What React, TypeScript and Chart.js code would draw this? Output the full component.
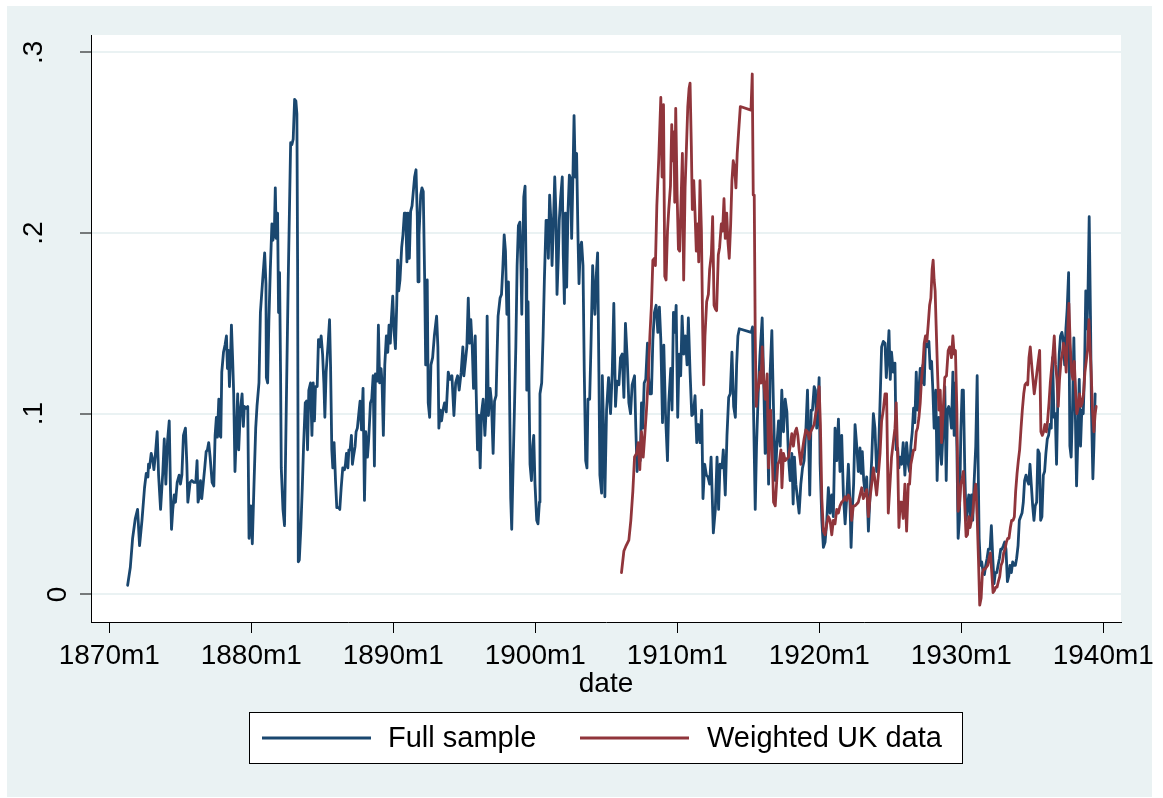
import { useEffect, useRef } from 'react';
import { Chart, registerables } from 'chart.js';

Chart.register(...registerables);

// Monthly series, dates as decimal years.
const fullDates = [
  1871.29, 1871.48, 1871.64, 1871.83, 1871.99, 1872.13, 1872.3, 1872.48, 1872.6, 1872.72, 1872.76, 1872.83, 1872.95,
  1873.07, 1873.14, 1873.23, 1873.37, 1873.47, 1873.61, 1873.77, 1873.87, 1873.98, 1874.1, 1874.22, 1874.31, 1874.38,
  1874.47, 1874.57, 1874.66, 1874.78, 1874.92, 1875.01, 1875.11, 1875.22, 1875.36, 1875.46, 1875.53, 1875.62, 1875.69,
  1875.81, 1875.95, 1876.09, 1876.18, 1876.25, 1876.35, 1876.42, 1876.51, 1876.61, 1876.72, 1876.82, 1876.91, 1877.0,
  1877.1, 1877.24, 1877.36, 1877.45, 1877.54, 1877.61, 1877.71, 1877.78, 1877.85, 1877.92, 1878.04, 1878.15, 1878.25,
  1878.32, 1878.39, 1878.46, 1878.55, 1878.6, 1878.69, 1878.76, 1878.85, 1878.95, 1879.04, 1879.11, 1879.23, 1879.35,
  1879.44, 1879.51, 1879.63, 1879.75, 1879.84, 1879.96, 1880.07, 1880.19, 1880.31, 1880.4, 1880.54, 1880.64, 1880.8,
  1880.94, 1881.03,
  1881.06, 1881.15, 1881.24, 1881.34, 1881.45, 1881.52, 1881.62, 1881.69, 1881.76, 1881.85, 1881.92, 1881.99, 1882.06,
  1882.11, 1882.23, 1882.34, 1882.46, 1882.6, 1882.77, 1882.86, 1882.95, 1883.05, 1883.14, 1883.21, 1883.26, 1883.31,
  1883.38, 1883.49, 1883.59, 1883.68, 1883.8, 1883.89, 1883.96, 1884.05, 1884.17, 1884.27, 1884.36, 1884.45, 1884.52,
  1884.64, 1884.73, 1884.83, 1884.92, 1885.02, 1885.11, 1885.18, 1885.27, 1885.41, 1885.51, 1885.58, 1885.67, 1885.74,
  1885.83, 1885.93, 1886.02, 1886.16, 1886.23, 1886.33, 1886.44, 1886.56, 1886.63, 1886.7, 1886.8, 1886.87, 1886.96,
  1887.05, 1887.12, 1887.19, 1887.31, 1887.38, 1887.47, 1887.57, 1887.66, 1887.76, 1887.87, 1887.97, 1888.06, 1888.18,
  1888.27, 1888.39, 1888.48, 1888.58, 1888.67, 1888.74, 1888.88, 1888.95, 1889.04, 1889.14, 1889.21, 1889.3, 1889.4,
  1889.51, 1889.61, 1889.7, 1889.79, 1889.86, 1889.96, 1890.05, 1890.15, 1890.24, 1890.31, 1890.38, 1890.47, 1890.59,
  1890.68, 1890.78, 1890.87, 1890.96, 1891.03, 1891.13, 1891.22, 1891.32, 1891.41, 1891.5, 1891.6, 1891.69, 1891.74,
  1891.81, 1891.93, 1892.02, 1892.11, 1892.21, 1892.28, 1892.39, 1892.46, 1892.56, 1892.65,
  1892.77, 1892.89, 1893.05, 1893.14, 1893.21, 1893.31, 1893.4, 1893.5, 1893.61, 1893.73, 1893.87, 1893.99, 1894.13,
  1894.27, 1894.39, 1894.53, 1894.64, 1894.78, 1894.9, 1894.97, 1895.09, 1895.18, 1895.28, 1895.37, 1895.46, 1895.56,
  1895.65, 1895.77, 1895.84, 1895.93, 1896.03, 1896.12, 1896.21, 1896.33, 1896.45, 1896.54, 1896.61, 1896.7, 1896.82,
  1896.91, 1897.03, 1897.13, 1897.24, 1897.31, 1897.38, 1897.52, 1897.62, 1897.71, 1897.81, 1897.9, 1898.0, 1898.11,
  1898.2, 1898.27, 1898.34, 1898.44, 1898.53, 1898.63, 1898.72, 1898.81, 1898.91, 1898.98, 1899.05, 1899.12, 1899.19,
  1899.28, 1899.35, 1899.4, 1899.49, 1899.56, 1899.63, 1899.73, 1899.82, 1899.89, 1899.98, 1900.1, 1900.19, 1900.29,
  1900.33, 1900.45, 1900.55, 1900.64, 1900.76, 1900.85, 1900.92, 1901.01, 1901.11, 1901.18, 1901.27, 1901.37, 1901.46,
  1901.53, 1901.62, 1901.69, 1901.79, 1901.9, 1901.97, 1902.05, 1902.12, 1902.21, 1902.3, 1902.4, 1902.49, 1902.56,
  1902.65, 1902.73, 1902.82, 1902.91, 1903.01, 1903.08, 1903.17, 1903.26, 1903.36, 1903.45, 1903.55, 1903.64, 1903.71,
  1903.83, 1903.92, 1904.04, 1904.13, 1904.2, 1904.29, 1904.39, 1904.48, 1904.55, 1904.67,
  1904.72, 1904.81, 1904.9, 1905.02, 1905.16, 1905.3, 1905.42, 1905.53, 1905.65, 1905.75, 1905.89, 1906.0, 1906.12,
  1906.24, 1906.35, 1906.47, 1906.59, 1906.71, 1906.82, 1906.99, 1907.08, 1907.17, 1907.29, 1907.39, 1907.48, 1907.57,
  1907.67, 1907.78, 1907.9, 1907.97, 1908.07, 1908.18, 1908.28, 1908.39, 1908.51, 1908.63, 1908.74, 1908.84, 1908.96,
  1909.05, 1909.17, 1909.31, 1909.4, 1909.54, 1909.63, 1909.73, 1909.82, 1909.92, 1910.03, 1910.13, 1910.24, 1910.34,
  1910.45, 1910.57, 1910.69, 1910.78, 1910.9, 1911.02, 1911.13, 1911.25, 1911.37, 1911.48, 1911.6, 1911.72, 1911.81,
  1911.93, 1912.05, 1912.16, 1912.28, 1912.38, 1912.54, 1912.68, 1912.8, 1912.91, 1913.01, 1913.15, 1913.24, 1913.38,
  1913.5, 1913.62, 1913.73, 1913.85, 1913.97, 1914.09, 1914.18, 1914.27, 1914.37, 1915.21, 1915.3, 1915.37, 1915.49,
  1915.58, 1915.7, 1915.82, 1915.98, 1916.1, 1916.19, 1916.31, 1916.43, 1916.54,
  1916.66, 1916.78, 1916.9, 1917.01, 1917.13, 1917.25, 1917.36, 1917.48, 1917.6, 1917.72, 1917.83, 1917.95, 1918.07,
  1918.16, 1918.25, 1918.35, 1918.44, 1918.58, 1918.7, 1918.82, 1918.93, 1919.05, 1919.17, 1919.26, 1919.33, 1919.43,
  1919.52, 1919.64, 1919.73, 1919.82, 1919.89, 1919.99, 1920.06, 1920.18, 1920.29, 1920.41, 1920.53, 1920.64, 1920.76,
  1920.88, 1920.99, 1921.11, 1921.23, 1921.35, 1921.46, 1921.58, 1921.7, 1921.82, 1921.93, 1922.05, 1922.17, 1922.24,
  1922.33, 1922.42, 1922.52, 1922.64, 1922.75, 1922.87, 1922.94, 1923.03, 1923.13, 1923.22, 1923.34, 1923.46, 1923.57,
  1923.69, 1923.81, 1923.92, 1924.04, 1924.16, 1924.28, 1924.39, 1924.51, 1924.63, 1924.72, 1924.81, 1924.91, 1925.0,
  1925.09, 1925.21, 1925.33, 1925.42, 1925.52, 1925.61, 1925.7, 1925.8, 1925.91, 1926.03, 1926.15, 1926.27, 1926.36,
  1926.45, 1926.55, 1926.64, 1926.73, 1926.83, 1926.92, 1927.02, 1927.11, 1927.2, 1927.3, 1927.39, 1927.48, 1927.63,
  1927.72, 1927.81, 1927.91, 1928.0, 1928.09, 1928.21, 1928.3, 1928.42, 1928.54,
  1928.61, 1928.73, 1928.84, 1928.94, 1929.03, 1929.12, 1929.22, 1929.31, 1929.41, 1929.5, 1929.59, 1929.69, 1929.78,
  1929.87, 1929.97, 1930.06, 1930.15, 1930.25, 1930.34, 1930.44, 1930.53, 1930.62, 1930.72, 1930.81, 1930.9, 1931.02,
  1931.12, 1931.19, 1931.26, 1931.35, 1931.44, 1931.54, 1931.63, 1931.72, 1931.82, 1931.91, 1932.03, 1932.12, 1932.22,
  1932.31, 1932.4, 1932.5, 1932.59, 1932.69, 1932.78, 1932.87, 1932.97, 1933.06, 1933.15, 1933.25, 1933.34, 1933.43,
  1933.53, 1933.62, 1933.72, 1933.81, 1933.9, 1934.0, 1934.09, 1934.18, 1934.28, 1934.37, 1934.46, 1934.56, 1934.65,
  1934.75, 1934.84, 1934.93, 1935.03, 1935.12, 1935.21, 1935.31, 1935.4, 1935.5, 1935.59, 1935.68, 1935.78, 1935.87,
  1935.96, 1936.06, 1936.15, 1936.25, 1936.34, 1936.43, 1936.53, 1936.62, 1936.71, 1936.81, 1936.9, 1936.99, 1937.09,
  1937.18, 1937.28, 1937.37, 1937.46, 1937.56, 1937.65, 1937.74, 1937.84, 1937.93, 1938.03, 1938.12, 1938.21, 1938.31,
  1938.4, 1938.49, 1938.59, 1938.68, 1938.77, 1938.85, 1938.92, 1939.01, 1939.1, 1939.17, 1939.27, 1939.34, 1939.43,
];

const fullValues = [
  0.005, 0.015, 0.031, 0.042, 0.047, 0.027, 0.041, 0.059, 0.067, 0.065, 0.072, 0.07, 0.078,
  0.074, 0.069, 0.076, 0.09, 0.066, 0.047, 0.068, 0.086, 0.061, 0.085, 0.096, 0.057, 0.036,
  0.047, 0.055, 0.051, 0.062, 0.066, 0.061, 0.066, 0.088, 0.092, 0.072, 0.051, 0.057, 0.062,
  0.063, 0.062, 0.062, 0.074, 0.051, 0.055, 0.063, 0.053, 0.061, 0.07, 0.079, 0.08, 0.084,
  0.076, 0.062, 0.06, 0.088, 0.098, 0.087, 0.108, 0.088, 0.087, 0.123, 0.134, 0.138, 0.143,
  0.125, 0.135, 0.115, 0.135, 0.149, 0.129, 0.111, 0.068, 0.09, 0.111, 0.08, 0.102, 0.111,
  0.093, 0.104, 0.103, 0.104, 0.031, 0.049, 0.028, 0.061, 0.092, 0.104, 0.117, 0.156, 0.174,
  0.189, 0.172,
  0.12, 0.117, 0.152, 0.18, 0.205, 0.196, 0.2, 0.225, 0.197, 0.211, 0.156, 0.178, 0.123,
  0.07, 0.047, 0.038, 0.102, 0.174, 0.25, 0.249, 0.252, 0.274, 0.273, 0.266, 0.184, 0.018,
  0.019, 0.037, 0.059, 0.082, 0.106, 0.107, 0.08, 0.113, 0.117, 0.088, 0.117, 0.096, 0.115,
  0.115, 0.141, 0.137, 0.143, 0.133, 0.117, 0.098, 0.123, 0.139, 0.152, 0.127, 0.08, 0.07,
  0.084, 0.063, 0.048, 0.048, 0.047, 0.059, 0.07, 0.069, 0.072, 0.078, 0.07, 0.08, 0.08,
  0.088, 0.072, 0.076, 0.082, 0.09, 0.092, 0.1, 0.107, 0.091, 0.114, 0.052, 0.09, 0.076,
  0.086, 0.106, 0.108, 0.121, 0.071, 0.122, 0.118, 0.149, 0.117, 0.125, 0.117, 0.088, 0.127,
  0.143, 0.134, 0.149, 0.139, 0.152, 0.165, 0.146, 0.136, 0.16, 0.185, 0.168, 0.174, 0.192,
  0.199, 0.211, 0.211, 0.184, 0.211, 0.186, 0.212, 0.215, 0.223, 0.231, 0.235, 0.209, 0.173,
  0.199, 0.221, 0.225, 0.223, 0.174, 0.127, 0.174, 0.106, 0.098, 0.127,
  0.131, 0.143, 0.154, 0.137, 0.092, 0.102, 0.096, 0.102, 0.106, 0.101, 0.123, 0.119, 0.121,
  0.099, 0.117, 0.121, 0.113, 0.123, 0.137, 0.121, 0.13, 0.137, 0.164, 0.139, 0.152, 0.137,
  0.114, 0.143, 0.111, 0.08, 0.099, 0.07, 0.1, 0.108, 0.088, 0.102, 0.154, 0.099, 0.114,
  0.107, 0.078, 0.107, 0.11, 0.133, 0.154, 0.164, 0.166, 0.18, 0.199, 0.19, 0.155, 0.173,
  0.102, 0.053, 0.036, 0.072, 0.102, 0.137, 0.182, 0.204, 0.206, 0.186, 0.155, 0.193, 0.22,
  0.226, 0.18, 0.113, 0.162, 0.113, 0.072, 0.063, 0.082, 0.088, 0.061, 0.041, 0.039, 0.051,
  0.111, 0.117, 0.143, 0.174, 0.207, 0.207, 0.186, 0.221, 0.205, 0.182, 0.203, 0.231, 0.209,
  0.166, 0.186, 0.207, 0.22, 0.231, 0.188, 0.161, 0.211, 0.17, 0.211, 0.232, 0.23, 0.197,
  0.231, 0.265, 0.231, 0.244, 0.197, 0.172, 0.192, 0.195, 0.182, 0.123, 0.074, 0.07, 0.108,
  0.108, 0.137, 0.182, 0.164, 0.155, 0.176, 0.189, 0.123, 0.066, 0.056,
  0.121, 0.092, 0.054, 0.102, 0.12, 0.1, 0.123, 0.161, 0.104, 0.118, 0.116, 0.131, 0.133,
  0.109, 0.15, 0.131, 0.106, 0.1, 0.116, 0.121, 0.092, 0.068, 0.082, 0.074, 0.106, 0.092,
  0.117, 0.119, 0.139, 0.121, 0.111, 0.111, 0.141, 0.156, 0.16, 0.145, 0.159, 0.141, 0.095,
  0.138, 0.1, 0.074, 0.106, 0.125, 0.102, 0.156, 0.145, 0.16, 0.098, 0.133, 0.121, 0.154,
  0.133, 0.143, 0.127, 0.153, 0.123, 0.099, 0.1, 0.11, 0.084, 0.094, 0.084, 0.102, 0.053,
  0.072, 0.066, 0.065, 0.061, 0.076, 0.034, 0.047, 0.076, 0.047, 0.072, 0.07, 0.08, 0.055,
  0.088, 0.109, 0.111, 0.134, 0.104, 0.098, 0.127, 0.143, 0.147, 0.145, 0.148, 0.102, 0.047,
  0.082, 0.111, 0.132, 0.153, 0.113, 0.078, 0.113, 0.061, 0.123,
  0.146, 0.102, 0.063, 0.082, 0.096, 0.082, 0.113, 0.09, 0.108, 0.101, 0.076, 0.063, 0.078,
  0.05, 0.076, 0.061, 0.055, 0.045, 0.061, 0.07, 0.074, 0.09, 0.113, 0.082, 0.055, 0.102,
  0.102, 0.115, 0.113, 0.092, 0.102, 0.12, 0.072, 0.041, 0.026, 0.029, 0.041, 0.059, 0.045,
  0.055, 0.043, 0.092, 0.074, 0.097, 0.068, 0.088, 0.055, 0.039, 0.053, 0.072, 0.049, 0.026,
  0.047, 0.061, 0.094, 0.082, 0.068, 0.081, 0.067, 0.079, 0.063, 0.057, 0.065, 0.035, 0.054,
  0.074, 0.1, 0.092, 0.068, 0.074, 0.106, 0.137, 0.14, 0.139, 0.12, 0.131, 0.146, 0.119,
  0.134, 0.123, 0.128, 0.08, 0.081, 0.07, 0.076, 0.072, 0.084, 0.066, 0.084, 0.072, 0.068,
  0.082, 0.09, 0.103, 0.095, 0.123, 0.102, 0.113, 0.125, 0.117, 0.127, 0.116, 0.139, 0.137,
  0.14, 0.125, 0.129, 0.113, 0.092, 0.113, 0.063, 0.098, 0.078,
  0.072, 0.092, 0.115, 0.063, 0.102, 0.104, 0.1, 0.092, 0.123, 0.088, 0.117, 0.082, 0.031,
  0.041, 0.09, 0.113, 0.113, 0.068, 0.041, 0.049, 0.055, 0.043, 0.055, 0.041, 0.061, 0.082,
  0.121, 0.072, 0.031, 0.016, 0.018, 0.012, 0.011, 0.016, 0.02, 0.025, 0.025, 0.038, 0.02,
  0.006, 0.012, 0.012, 0.016, 0.02, 0.025, 0.025, 0.027, 0.029, 0.025, 0.007, 0.01, 0.016,
  0.012, 0.018, 0.016, 0.016, 0.02, 0.027, 0.041, 0.043, 0.045, 0.051, 0.063, 0.066, 0.063,
  0.061, 0.072, 0.061, 0.049, 0.041, 0.049, 0.051, 0.08, 0.078, 0.041, 0.043, 0.066, 0.068,
  0.078, 0.086, 0.088, 0.094, 0.092, 0.131, 0.098, 0.1, 0.072, 0.113, 0.133, 0.143, 0.145,
  0.141, 0.127, 0.147, 0.158, 0.178, 0.082, 0.076, 0.104, 0.142, 0.102, 0.06, 0.086, 0.119,
  0.082, 0.102, 0.1, 0.123, 0.168, 0.147, 0.164, 0.209, 0.154, 0.102, 0.064, 0.082, 0.111,
];

const ukDates = [
  1906.07, 1906.24, 1906.4, 1906.59, 1906.73, 1906.87, 1906.99, 1907.13, 1907.25, 1907.36, 1907.48, 1907.6, 1907.71,
  1907.83, 1907.95, 1908.07, 1908.18, 1908.28, 1908.39, 1908.46, 1908.56, 1908.7, 1908.84, 1908.93, 1909.03, 1909.12,
  1909.21, 1909.31, 1909.4, 1909.52, 1909.61, 1909.68, 1909.77, 1909.82, 1909.89, 1909.99, 1910.08, 1910.17, 1910.27,
  1910.36, 1910.45, 1910.55, 1910.64, 1910.74, 1910.83, 1910.9, 1910.99, 1911.06, 1911.16, 1911.25, 1911.34, 1911.44,
  1911.51, 1911.6, 1911.7, 1911.79, 1911.86, 1911.95, 1912.07, 1912.19, 1912.28, 1912.4, 1912.49, 1912.59, 1912.68,
  1912.77, 1912.89, 1912.98, 1913.1, 1913.19, 1913.29, 1913.38, 1913.48, 1913.57, 1913.66, 1913.76, 1913.85, 1913.94,
  1914.04, 1914.13, 1914.22, 1914.32, 1914.44, 1915.19, 1915.28, 1915.35, 1915.42, 1915.49, 1915.56, 1915.63, 1915.72,
  1915.82, 1915.91, 1915.98, 1916.08, 1916.19, 1916.33, 1916.43, 1916.57,
  1916.66, 1916.78, 1916.9, 1916.99, 1917.08, 1917.2, 1917.3, 1917.37, 1917.48, 1917.6, 1917.72, 1917.83, 1917.95,
  1918.07, 1918.18, 1918.3, 1918.4, 1918.49, 1918.58, 1918.7, 1918.82, 1918.93, 1919.05, 1919.17, 1919.29, 1919.4,
  1919.52, 1919.64, 1919.75, 1919.87, 1919.99, 1920.08, 1920.18, 1920.29, 1920.41, 1920.53, 1920.64, 1920.76, 1920.88,
  1920.99, 1921.11, 1921.23, 1921.35, 1921.46, 1921.58, 1921.7, 1921.82, 1921.93, 1922.05, 1922.17, 1922.28, 1922.4,
  1922.52, 1922.64, 1922.75, 1922.87, 1922.99, 1923.1, 1923.22, 1923.34, 1923.46, 1923.57, 1923.69, 1923.81, 1923.92,
  1924.04, 1924.16, 1924.28, 1924.39, 1924.51, 1924.63, 1924.74, 1924.86, 1924.98, 1925.09, 1925.21, 1925.33, 1925.42,
  1925.52, 1925.61, 1925.7, 1925.8, 1925.91, 1926.03, 1926.15, 1926.27, 1926.36, 1926.45, 1926.55, 1926.64, 1926.73,
  1926.83, 1926.92, 1927.02, 1927.11, 1927.2, 1927.3, 1927.39, 1927.48, 1927.58, 1927.67, 1927.77, 1927.86, 1927.95,
  1928.02, 1928.09, 1928.16, 1928.23, 1928.33, 1928.42, 1928.52,
  1928.61, 1928.73, 1928.84, 1928.96, 1929.08, 1929.19, 1929.31, 1929.41, 1929.5, 1929.59, 1929.69, 1929.78, 1929.87,
  1929.97, 1930.06, 1930.15, 1930.25, 1930.34, 1930.44, 1930.53, 1930.62, 1930.72, 1930.81, 1930.9, 1931.02, 1931.12,
  1931.21, 1931.3, 1931.4, 1931.49, 1931.58, 1931.68, 1931.77, 1931.86, 1931.96, 1932.05, 1932.15, 1932.24, 1932.33,
  1932.43, 1932.52, 1932.61, 1932.71, 1932.8, 1932.9, 1932.99, 1933.08, 1933.18, 1933.27, 1933.36, 1933.46, 1933.55,
  1933.65, 1933.74, 1933.83, 1933.93, 1934.02, 1934.11, 1934.21, 1934.3, 1934.4, 1934.49, 1934.58, 1934.68, 1934.77,
  1934.86, 1934.96, 1935.05, 1935.14, 1935.24, 1935.33, 1935.42, 1935.52, 1935.61, 1935.71, 1935.8, 1935.89, 1935.99,
  1936.08, 1936.18, 1936.27, 1936.36, 1936.46, 1936.55, 1936.64, 1936.74, 1936.83, 1936.92, 1937.02, 1937.11, 1937.2,
  1937.3, 1937.39, 1937.49, 1937.58, 1937.67, 1937.77, 1937.86, 1937.96, 1938.05, 1938.14, 1938.24, 1938.33, 1938.42,
  1938.52, 1938.61, 1938.71, 1938.8, 1938.89, 1938.99, 1939.06, 1939.15, 1939.24, 1939.34, 1939.43, 1939.5,
];

const ukValues = [
  0.012, 0.024, 0.027, 0.03, 0.041, 0.057, 0.076, 0.078, 0.084, 0.069, 0.09, 0.076, 0.088,
  0.102, 0.119, 0.143, 0.16, 0.185, 0.186, 0.182, 0.215, 0.242, 0.275, 0.231, 0.271, 0.176,
  0.174, 0.201, 0.213, 0.226, 0.26, 0.24, 0.256, 0.217, 0.269, 0.221, 0.191, 0.19, 0.219,
  0.244, 0.174, 0.225, 0.246, 0.27, 0.28, 0.283, 0.248, 0.213, 0.229, 0.211, 0.19, 0.205,
  0.184, 0.229, 0.201, 0.147, 0.116, 0.143, 0.162, 0.166, 0.18, 0.188, 0.209, 0.16, 0.158,
  0.157, 0.188, 0.192, 0.205, 0.201, 0.219, 0.197, 0.211, 0.195, 0.186, 0.205, 0.229, 0.24,
  0.236, 0.225, 0.244, 0.256, 0.27, 0.268, 0.288, 0.221, 0.221, 0.143, 0.104, 0.112, 0.115,
  0.123, 0.117, 0.137, 0.119, 0.108, 0.122, 0.07, 0.102,
  0.084, 0.051, 0.049, 0.061, 0.072, 0.074, 0.08, 0.059, 0.078, 0.074, 0.075, 0.076, 0.082,
  0.089, 0.082, 0.09, 0.092, 0.088, 0.08, 0.072, 0.08, 0.086, 0.091, 0.09, 0.086, 0.09,
  0.092, 0.094, 0.1, 0.104, 0.115, 0.094, 0.053, 0.035, 0.033, 0.039, 0.043, 0.041, 0.033,
  0.041, 0.039, 0.047, 0.045, 0.049, 0.051, 0.052, 0.054, 0.052, 0.055, 0.053, 0.041, 0.049,
  0.049, 0.05, 0.051, 0.055, 0.059, 0.053, 0.055, 0.058, 0.043, 0.053, 0.061, 0.07, 0.063,
  0.055, 0.066, 0.078, 0.096, 0.102, 0.111, 0.111, 0.045, 0.061, 0.076, 0.084, 0.092, 0.106,
  0.076, 0.037, 0.051, 0.051, 0.042, 0.061, 0.035, 0.061, 0.061, 0.072, 0.076, 0.08, 0.08,
  0.09, 0.092, 0.098, 0.106, 0.119, 0.127, 0.139, 0.143, 0.14, 0.149, 0.16, 0.164, 0.18,
  0.185, 0.174, 0.168, 0.149, 0.123, 0.102, 0.113,
  0.084, 0.102, 0.12, 0.121, 0.135, 0.137, 0.131, 0.143, 0.133, 0.135, 0.102, 0.046, 0.049,
  0.061, 0.064, 0.068, 0.049, 0.032, 0.033, 0.043, 0.037, 0.041, 0.045, 0.055, 0.061, 0.043,
  0.02, -0.006, -0.002, 0.012, 0.014, 0.014, 0.015, 0.016, 0.02, 0.023, 0.012, 0.001, 0.002,
  0.004, 0.004, 0.007, 0.01, 0.016, 0.018, 0.023, 0.025, 0.029, 0.031, 0.031, 0.037, 0.041,
  0.041, 0.043, 0.057, 0.067, 0.074, 0.08, 0.092, 0.102, 0.111, 0.116, 0.117, 0.116, 0.131,
  0.137, 0.127, 0.119, 0.111, 0.117, 0.123, 0.129, 0.135, 0.09, 0.088, 0.09, 0.094, 0.09,
  0.096, 0.106, 0.117, 0.125, 0.133, 0.143, 0.127, 0.119, 0.104, 0.119, 0.129, 0.133, 0.139,
  0.135, 0.123, 0.145, 0.161, 0.139, 0.123, 0.119, 0.129, 0.113, 0.1, 0.104, 0.111, 0.104,
  0.106, 0.111, 0.123, 0.129, 0.135, 0.152, 0.139, 0.123, 0.102, 0.09, 0.1, 0.104,
];

const seriesLabels = ['Full sample', 'Weighted UK data'];
const xTickYears = [1870, 1880, 1890, 1900, 1910, 1920, 1930, 1940];
const yTickValues = [0, 0.1, 0.2, 0.3];

const NAVY = '#1A476F';
const MAROON = '#90353B';
const BACKDROP = '#EAF2F3';
const FONT = '"Liberation Sans", Arial, Helvetica, sans-serif';

const formatY = (v: number) => (v === 0 ? '0' : '.' + Math.round(v * 10));

// Light graph region behind a white plot region.
const backdropPlugin = {
  id: 'backdrop',
  beforeDraw(chart: any) {
    const { ctx, chartArea } = chart;
    ctx.save();
    ctx.fillStyle = BACKDROP;
    ctx.fillRect(7, 6, 1145, 791);
    ctx.fillStyle = '#ffffff';
    ctx.fillRect(chartArea.left, chartArea.top, chartArea.right - chartArea.left, chartArea.bottom - chartArea.top);
    ctx.restore();
  },
};

// Vertical y-axis labels, reading bottom to top.
const yLabelPlugin = {
  id: 'yLabels',
  afterDraw(chart: any) {
    const { ctx } = chart;
    const y = chart.scales.y;
    ctx.save();
    ctx.fillStyle = '#000';
    ctx.font = `28px ${FONT}`;
    ctx.textAlign = 'center';
    ctx.textBaseline = 'middle';
    yTickValues.forEach((v) => {
      const label = formatY(v);
      const cx = label.startsWith('.') ? 34 : 58;
      ctx.save();
      ctx.translate(cx, y.getPixelForValue(v));
      ctx.rotate(-Math.PI / 2);
      ctx.fillText(label, 0, 0);
      ctx.restore();
    });
    ctx.restore();
  },
};

// Boxed legend below the axis title.
const legendBoxPlugin = {
  id: 'legendBox',
  afterDraw(chart: any) {
    const { ctx } = chart;
    const box = { x: 249.5, y: 712.5, w: 713, h: 51 };
    const items = [
      { color: NAVY, lineX: 262, textX: 388 },
      { color: MAROON, lineX: 580, textX: 707 },
    ];
    const midY = box.y + box.h / 2;
    ctx.save();
    ctx.fillStyle = '#ffffff';
    ctx.fillRect(box.x, box.y, box.w, box.h);
    ctx.strokeStyle = '#000';
    ctx.lineWidth = 1;
    ctx.strokeRect(box.x, box.y, box.w, box.h);
    ctx.font = `29px ${FONT}`;
    ctx.textBaseline = 'middle';
    ctx.textAlign = 'left';
    chart.data.datasets.forEach((ds: any, i: number) => {
      const it = items[i];
      ctx.strokeStyle = it.color;
      ctx.lineWidth = 3;
      ctx.beginPath();
      ctx.moveTo(it.lineX, midY);
      ctx.lineTo(it.lineX + 109, midY);
      ctx.stroke();
      ctx.fillStyle = '#000';
      ctx.fillText(ds.label, it.textX, midY + 1);
    });
    ctx.restore();
  },
};

export default function App() {
  const canvasRef = useRef<HTMLCanvasElement>(null);

  useEffect(() => {
    if (!canvasRef.current) return;
    const chart = new Chart(canvasRef.current, {
      type: 'line',
      data: {
        datasets: [
          {
            label: seriesLabels[0],
            data: fullDates.map((x, i) => ({ x, y: fullValues[i] })),
            borderColor: NAVY,
            backgroundColor: NAVY,
            borderWidth: 2.8,
            pointRadius: 0,
            tension: 0,
            borderJoinStyle: 'round',
            borderCapStyle: 'round',
            order: 1,
          },
          {
            label: seriesLabels[1],
            data: ukDates.map((x, i) => ({ x, y: ukValues[i] })),
            borderColor: MAROON,
            backgroundColor: MAROON,
            borderWidth: 2.8,
            pointRadius: 0,
            tension: 0,
            borderJoinStyle: 'round',
            borderCapStyle: 'round',
            order: 0,
          },
        ],
      },
      options: {
        animation: false,
        responsive: false,
        devicePixelRatio: 1,
        layout: { padding: { top: 35, right: 42, left: 0, bottom: 0 }, autoPadding: false },
        plugins: { legend: { display: false }, tooltip: { enabled: false } },
        scales: {
          x: {
            type: 'linear',
            min: 1868.71,
            max: 1941.25,
            afterBuildTicks: (s: any) => {
              s.ticks = xTickYears.map((value) => ({ value }));
            },
            afterFit: (s: any) => {
              s.height = 176;
              s.paddingLeft = 0;
              s.paddingRight = 0;
            },
            ticks: {
              autoSkip: false,
              maxRotation: 0,
              minRotation: 0,
              padding: 6,
              color: '#000',
              font: { family: FONT, size: 28 },
              callback: (v: any) => `${v}m1`,
            },
            grid: {
              drawOnChartArea: false,
              drawTicks: true,
              tickLength: 11,
              tickColor: '#000',
              tickWidth: 1,
            },
            border: { display: true, color: '#000', width: 1 },
            title: {
              display: true,
              text: 'date',
              color: '#000',
              font: { family: FONT, size: 28 },
              padding: { top: 0, bottom: 97 },
            },
          },
          y: {
            type: 'linear',
            min: -0.0153,
            max: 0.3096,
            afterBuildTicks: (s: any) => {
              s.ticks = yTickValues.map((value) => ({ value }));
            },
            afterFit: (s: any) => {
              s.width = 91;
              s.paddingTop = 0;
              s.paddingBottom = 0;
            },
            ticks: { display: false },
            grid: {
              color: BACKDROP,
              lineWidth: 2,
              drawTicks: true,
              tickLength: 11,
              tickColor: '#000',
              tickWidth: 1,
            },
            border: { display: true, color: '#000', width: 1 },
          },
        },
      },
      plugins: [backdropPlugin, yLabelPlugin, legendBoxPlugin],
    } as any);
    return () => chart.destroy();
  }, []);

  return (
    <div style={{ position: 'absolute', left: 0, top: 0, width: 1163, height: 798 }}>
      <canvas ref={canvasRef} width={1163} height={798} style={{ display: 'block', width: 1163, height: 798 }} />
    </div>
  );
}
